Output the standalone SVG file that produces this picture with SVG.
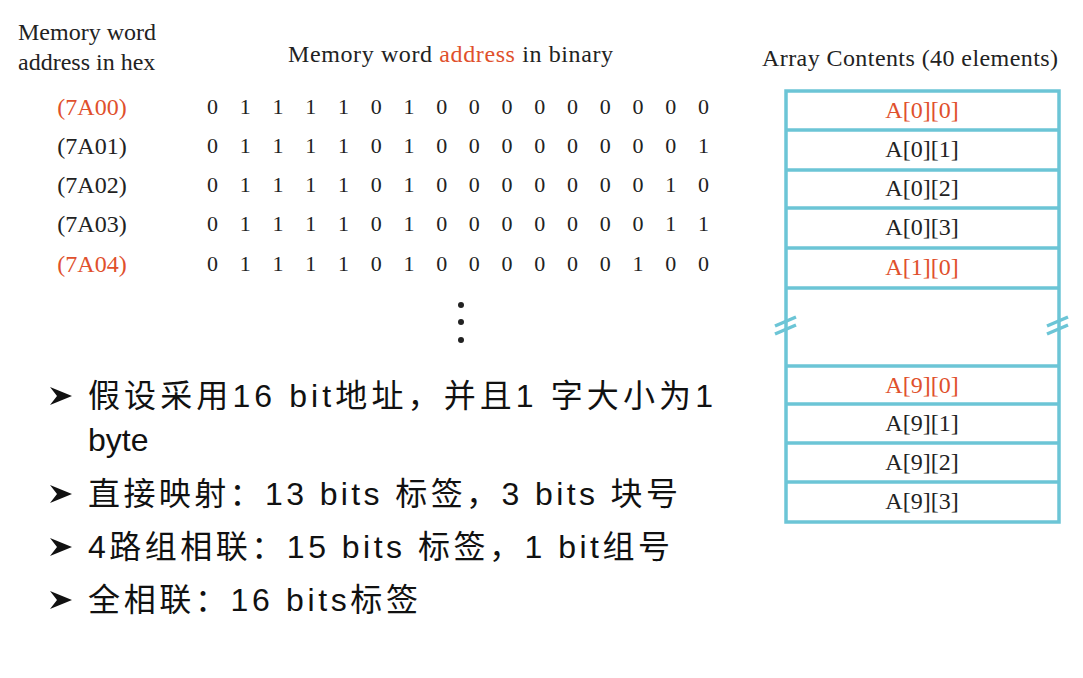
<svg xmlns="http://www.w3.org/2000/svg" width="1083" height="678" viewBox="0 0 1083 678">
<style>
.t{font-family:"Liberation Serif",serif;font-size:22px;fill:#222}
.h{font-family:"Liberation Serif",serif;font-size:24px;fill:#222}
.b{font-family:"Liberation Serif",serif;font-size:24px;fill:#222;text-anchor:middle}
text.r,tspan.r{fill:#e0502c}
.box{fill:none;stroke:#6cc5d6;stroke-width:3.5}
.bl{font-family:"Liberation Sans","Noto Sans CJK SC",sans-serif;font-size:32px;fill:#111}
.ar{fill:#111}
</style>
<defs><path id="arw" d="M0 -9L22 0L0 9L7 0Z"/></defs>
<rect width="1083" height="678" fill="#fff"/>
<g id="headers">
<text class="h" x="18" y="40">Memory word</text>
<text class="h" x="18" y="70">address in hex</text>
<text class="h" x="288" y="62" textLength="325">Memory word <tspan class="r">address</tspan> in binary</text>
<text class="h" x="762" y="66" textLength="296">Array Contents (40 elements)</text>
</g>
<g id="hex">
<text x="92" y="115" class="b r">(7A00)</text>
<text x="92" y="154" class="b">(7A01)</text>
<text x="92" y="193" class="b">(7A02)</text>
<text x="92" y="232" class="b">(7A03)</text>
<text x="92" y="272" class="b r">(7A04)</text>
</g>
<g id="binary" class="t">
<text x="207" y="114" xml:space="preserve" textLength="502">0 1 1 1 1 0 1 0 0 0 0 0 0 0 0 0</text>
<text x="207" y="153" xml:space="preserve" textLength="502">0 1 1 1 1 0 1 0 0 0 0 0 0 0 0 1</text>
<text x="207" y="192" xml:space="preserve" textLength="502">0 1 1 1 1 0 1 0 0 0 0 0 0 0 1 0</text>
<text x="207" y="231" xml:space="preserve" textLength="502">0 1 1 1 1 0 1 0 0 0 0 0 0 0 1 1</text>
<text x="207" y="271" xml:space="preserve" textLength="502">0 1 1 1 1 0 1 0 0 0 0 0 0 1 0 0</text>
<circle cx="461" cy="305" r="3" fill="#222"/>
<circle cx="461" cy="322" r="3" fill="#222"/>
<circle cx="461" cy="340" r="3" fill="#222"/>
</g>
<g id="array">
<rect class="box" x="786" y="91" width="273" height="431"/>
<path class="box" d="M786 130H1059M786 170H1059M786 208H1059M786 248H1059M786 288H1059M786 366H1059M786 404H1059M786 443H1059M786 482H1059"/>
<path class="box" d="M775 326L796 317M775 334L796 325M1047 326L1068 317M1047 334L1068 325"/>
<text class="b r" x="922" y="118">A[0][0]</text>
<text class="b" x="922" y="157">A[0][1]</text>
<text class="b" x="922" y="196">A[0][2]</text>
<text class="b" x="922" y="235">A[0][3]</text>
<text class="b r" x="922" y="275">A[1][0]</text>
<text class="b r" x="922" y="393">A[9][0]</text>
<text class="b" x="922" y="431">A[9][1]</text>
<text class="b" x="922" y="470">A[9][2]</text>
<text class="b" x="922" y="509">A[9][3]</text>
</g>
<g id="bullets">
<use href="#arw" class="ar" x="50" y="396"/>
<text class="bl" x="88" y="407" textLength="625">假设采用16 bit地址，并且1 字大小为1</text>
<text class="bl" x="88" y="451">byte</text>
<use href="#arw" class="ar" x="50" y="494"/>
<text class="bl" x="88" y="505" textLength="590">直接映射：13 bits 标签，3 bits 块号</text>
<use href="#arw" class="ar" x="50" y="547"/>
<text class="bl" x="88" y="558" textLength="582">4路组相联：15 bits 标签，1 bit组号</text>
<use href="#arw" class="ar" x="50" y="600"/>
<text class="bl" x="88" y="611" textLength="330">全相联：16 bits标签</text>
</g>
</svg>
